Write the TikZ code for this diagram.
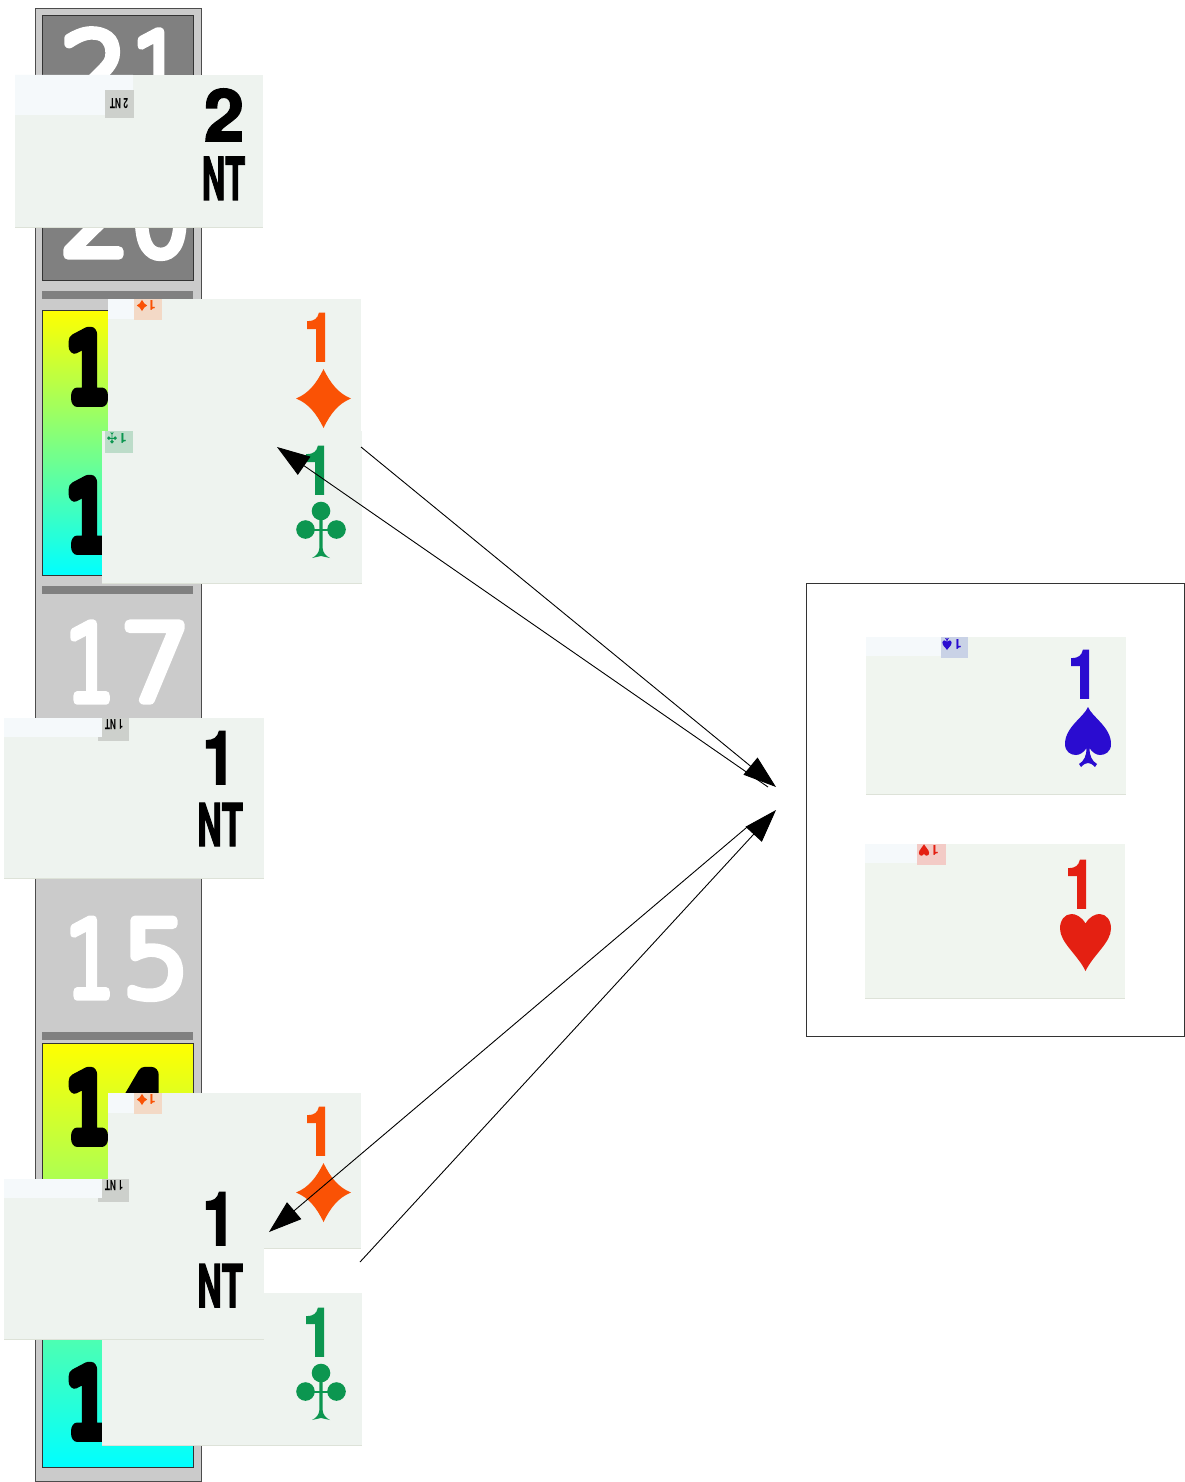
\documentclass[tikz,border=0pt]{standalone}
\usepackage{fontspec}
\setmainfont{TeX Gyre Heros}
\newfontfamily\numthin[FakeBold=9]{DejaVu Sans ExtraLight}
\newfontfamily\numfat[FakeBold=18]{DejaVu Sans ExtraLight}
\newfontfamily\ntfont[BoldFeatures={FakeBold=2.5}]{TeX Gyre Heros}
\usetikzlibrary{arrows.meta}
\definecolor{stripgray}{HTML}{CBCBCB}
\definecolor{midgray}{HTML}{808080}
\definecolor{cardbg}{HTML}{EEF3EF}
\definecolor{cardbgb}{HTML}{F0F5EF}
\definecolor{cardedge}{HTML}{DDE2D8}
\definecolor{tabwhite}{HTML}{F5F9FB}
\definecolor{suitorange}{HTML}{FA5205}
\definecolor{suitgreen}{HTML}{0C9650}
\definecolor{suitblue}{HTML}{2A0CD0}
\definecolor{suitred}{HTML}{E42012}
\definecolor{taggray}{HTML}{CDD0CC}
\definecolor{tagorange}{HTML}{F3D9C6}
\definecolor{taggreen}{HTML}{BCDCC9}
\definecolor{tagblue}{HTML}{C9D2E6}
\definecolor{tagred}{HTML}{F3CBC6}
% digit with its own horizontal scale; round joins for the stroked glyphs
\newcommand{\rj}{\special{pdf:code 1 j 1 J}}
\newcommand{\digone}{\scalebox{.76}[1]{1}}
\newcommand{\digwide}[2][1.04]{\scalebox{#1}[1]{#2}}
\tikzset{
  card/.style={anchor=north west,fill=cardbg,inner sep=0pt,outer sep=0pt},
  whitetab/.style={fill=tabwhite},
  bignumw/.style={anchor=base west,inner sep=0pt,text=white,font=\fontsize{104}{104}\selectfont\numthin},
  bignumk/.style={anchor=base west,inner sep=0pt,text=black,font=\fontsize{88}{88}\selectfont\numfat},
  facetxt/.style={anchor=base,inner sep=0pt,font=\fontsize{67}{67}\selectfont\bfseries\ntfont},
  ntxt/.style={anchor=base,inner sep=0pt,text=black,font=\fontsize{59}{59}\selectfont\bfseries\ntfont},
  bigtxt/.style={anchor=base,inner sep=0pt,text=black},
  minitxt/.style={anchor=center,inner sep=0pt,rotate=180,font=\fontsize{14}{14}\selectfont\bfseries},
  panel/.style={draw=black!80,line width=.9pt},
  link/.style={draw=black,line width=.9pt,-{Triangle[length=33pt,width=22pt]}},
  gradbox/.style={draw=black!80,line width=.8pt,top color=yellow,bottom color=cyan},
  topbar/.style={fill=midgray}
}
\newcommand{\SuitDiamond}[3]{\fill[shift={(#1,#2)},#3] (0,-29.5) .. controls (7,-15) and (15,-5) .. (27.5,0) .. controls (15,5) and (7,15) .. (0,29.5) .. controls (-7,15) and (-15,5) .. (-27.5,0) .. controls (-15,-5) and (-7,-15) .. cycle;}
\newcommand{\SuitClub}[3]{\fill[shift={(#1,#2)},#3] (0,-19) circle (9.3) (-15.5,-.5) circle (9.3) (15.5,-.5) circle (9.3);
  \fill[shift={(#1,#2)},#3] (-8,-1.5) rectangle (8,.5);
  \fill[shift={(#1,#2)},#3] (-1.6,-12) -- (1.6,-12) -- (1.6,18) .. controls (2,23) and (5,26) .. (9,28) -- (0,26) -- (-9,28) .. controls (-5,26) and (-2,23) .. (-1.6,18) -- cycle;}
\newcommand{\SuitSpade}[3]{\fill[shift={(#1,#2)},#3] (0,-30) .. controls (4,-20) and (23,-10) .. (23,7) .. controls (23,15) and (17,18) .. (12,18) .. controls (8,18) and (4,15) .. (1.5,11) .. controls (1.5,19) and (4,24) .. (9,27) -- (7,30) .. controls (4,27) and (2,26) .. (0,26) .. controls (-2,26) and (-4,27) .. (-7,30) -- (-9,27) .. controls (-4,24) and (-1.5,19) .. (-1.5,11) .. controls (-4,15) and (-8,18) .. (-12,18) .. controls (-17,18) and (-23,15) .. (-23,7) .. controls (-23,-10) and (-4,-20) .. cycle;}
\newcommand{\SuitHeart}[3]{\fill[shift={(#1,#2)},#3] (0,-19) .. controls (4,-26) and (10,-28.5) .. (14,-28.5) .. controls (21,-28.5) and (25.5,-22) .. (25.5,-14) .. controls (25.5,0) and (8,12) .. (0,28.5) .. controls (-8,12) and (-25.5,0) .. (-25.5,-14) .. controls (-25.5,-22) and (-21,-28.5) .. (-14,-28.5) .. controls (-10,-28.5) and (-4,-26) .. cycle;}
\newcommand{\FaceOne}[4]{\node[facetxt,text=#4] (#1) at (#2,#3) {\scalebox{.8}[1]{1}};}
\newcommand{\CardBox}[5]{\node[card,minimum width=#4pt,minimum height=#5pt] (#1) at (#2,#3) {};
  \draw[cardedge,line width=1pt] (#1.south west) -- (#1.south east);}
\newcommand{\CardBoxB}[5]{\node[card,fill=cardbgb,minimum width=#4pt,minimum height=#5pt] (#1) at (#2,#3) {};
  \draw[cardedge,line width=1pt] (#1.south west) -- (#1.south east);}
\begin{document}
\begin{tikzpicture}[x=1pt,y=-1pt]
\useasboundingbox (0,0) rectangle (1185,1482);
\fill[white] (0,0) rectangle (1185,1482);
% strip
\node[anchor=north west,fill=stripgray,draw=black!70,line width=1.1pt,inner sep=0pt,minimum width=166pt,minimum height=1473pt] (strip) at (35,8) {};
\node[anchor=north west,fill=midgray,panel,inner sep=0pt,minimum width=151pt,minimum height=265pt] (toppanel) at (42,15) {};
\fill[topbar] (42,291) rectangle (193,299);
\fill[topbar] (42,586) rectangle (193,594);
\fill[topbar] (42,1032) rectangle (193,1040);
\shade[gradbox] (42,310) rectangle (193,575);
\shade[gradbox] (42,1043) rectangle (193,1467);
\node[bignumw] (n21) at (60.5,108) {\rj\digwide{2}\hspace{3pt}\digone};
\node[bignumw] (n20) at (60.5,255) {\rj\digwide{2}\hspace{1pt}\digwide[.92]{0}};
\node[bignumk] (n1a) at (67,399) {\rj\digone};
\node[bignumk] (n1b) at (67,547) {\rj\digone};
\node[bignumw] (n17) at (65,700) {\rj\digone\hspace{5pt}\digwide[1.08]{7}};
\node[bignumw] (n15) at (65,996) {\rj\digone\hspace{6pt}\digwide{5}};
\node[bignumk] (n14) at (67,1139) {\rj\digone\hspace{6pt}\scalebox{.9}[1]{4}};
\node[bignumk] (n1c) at (67,1434) {\rj\digone};
% 2NT card
\CardBox{cTwoNT}{15}{75}{248}{152}
\fill[whitetab] (15,75) rectangle (133,90) (15,90) rectangle (107,115);
\fill[taggray] (105,90) rectangle (134,118);
\node[minitxt,text=black] (cTwoNTm) at (119,104) {\scalebox{.6}[1]{2 NT}};
\node[bigtxt,font=\fontsize{72}{72}\selectfont\bfseries\ntfont] (cTwoNTa) at (224,141) {2};
\node[ntxt] (cTwoNTb) at (223.5,200) {\scalebox{.55}[1]{NT}};
% top diamond
\CardBox{dA}{108}{299}{253}{155}
\fill[whitetab] (108,299) rectangle (134,319);
\fill[tagorange] (134,299) rectangle (162,320);
\SuitDiamond{142}{305.5}{suitorange,scale=.19}
\node[minitxt,text=suitorange] (dAm) at (152,305.5) {1};
\FaceOne{dAf}{319}{361}{suitorange}
\SuitDiamond{323.5}{398.5}{suitorange}
% top club
\CardBox{kA}{102}{431}{260}{152}
\fill[taggreen] (105,431) rectangle (133,453);
\SuitClub{112}{438}{suitgreen,rotate=180,scale=.2}
\node[minitxt,text=suitgreen] (kAm) at (123,438) {1};
\FaceOne{kAf}{318}{494}{suitgreen}
\SuitClub{321}{530}{suitgreen}
% 1NT card
\CardBox{oA}{4}{718}{260}{160}
\fill[taggray] (98,718) rectangle (129,741);
\fill[whitetab] (4,718) rectangle (102,737);
\node[minitxt,text=black] (oAm) at (114,725) {\scalebox{.6}[1]{1 NT}};
\node[bigtxt,font=\fontsize{74}{74}\selectfont\bfseries\ntfont] (oAa) at (219,784) {\scalebox{.8}[1]{1}};
\node[ntxt] (oAb) at (220,846) {\scalebox{.58}[1]{NT}};
% bottom diamond
\CardBox{dB}{108}{1093}{253}{155}
\fill[whitetab] (108,1093) rectangle (134,1113);
\fill[tagorange] (134,1093) rectangle (162,1114);
\SuitDiamond{142}{1099.5}{suitorange,scale=.19}
\node[minitxt,text=suitorange] (dBm) at (152,1099.5) {1};
\FaceOne{dBf}{319}{1155}{suitorange}
\SuitDiamond{323.5}{1192.5}{suitorange}
% bottom club
\CardBox{kB}{102}{1293}{260}{152}
\FaceOne{kBf}{318}{1356}{suitgreen}
\SuitClub{321}{1392}{suitgreen}
% bottom 1NT
\CardBox{oB}{4}{1179}{260}{160}
\fill[taggray] (98,1179) rectangle (129,1202);
\fill[whitetab] (4,1179) rectangle (102,1198);
\node[minitxt,text=black] (oBm) at (114,1186) {\scalebox{.6}[1]{1 NT}};
\node[bigtxt,font=\fontsize{74}{74}\selectfont\bfseries\ntfont] (oBa) at (219,1245) {\scalebox{.8}[1]{1}};
\node[ntxt] (oBb) at (220,1307) {\scalebox{.58}[1]{NT}};
% right panel
\node[anchor=north west,panel,inner sep=0pt,minimum width=378pt,minimum height=453pt] (frame) at (806,583) {};
\CardBoxB{sC}{866}{637}{260}{157}
\fill[whitetab] (866,637) rectangle (941,656);
\fill[tagblue] (941,637) rectangle (968,658);
\SuitSpade{947}{644}{suitblue,rotate=180,scale=.2}
\node[minitxt,text=suitblue] (sCm) at (958,644) {1};
\FaceOne{sCf}{1083}{698}{suitblue}
\SuitSpade{1088}{737}{suitblue}
\CardBoxB{hC}{865}{844}{260}{154}
\fill[whitetab] (865,844) rectangle (917,863);
\fill[tagred] (917,844) rectangle (946,865);
\SuitHeart{924}{850}{suitred,rotate=180,scale=.2}
\node[minitxt,text=suitred] (hCm) at (935,850) {1};
\FaceOne{hCf}{1080}{908}{suitred}
\SuitHeart{1085.5}{942.5}{suitred}
% connectors
\coordinate (a1s) at (361,447);
\coordinate (a1e) at (776,787);
\coordinate (a2s) at (768,787);
\coordinate (a2e) at (277,447);
\coordinate (a3s) at (360,1262);
\coordinate (a3e) at (776,810);
\coordinate (a4s) at (748,826.3);
\coordinate (a4e) at (269,1232);
\draw[link] (a1s) -- (a1e);
\draw[link] (a2s) -- (a2e);
\draw[link] (a3s) -- (a3e);
\draw[link] (a4s) -- (a4e);
\end{tikzpicture}
\end{document}
